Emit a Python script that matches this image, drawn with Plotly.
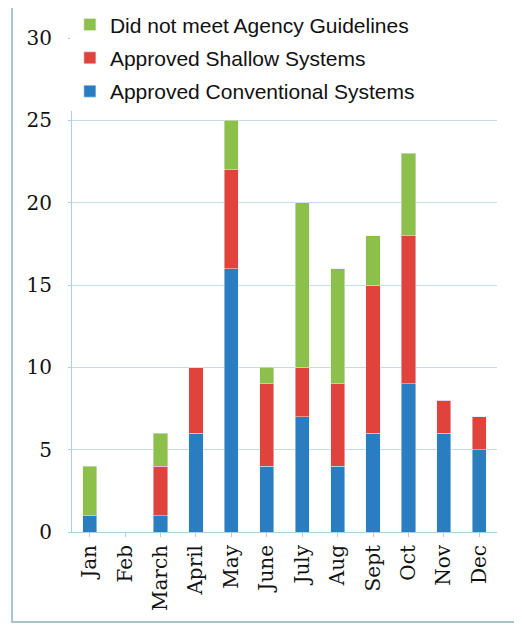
import plotly.graph_objects as go

months = ["Jan", "Feb", "March", "April", "May", "June", "July", "Aug", "Sept", "Oct", "Nov", "Dec"]
conventional = [1, 0, 1, 6, 16, 4, 7, 4, 6, 9, 6, 5]
shallow = [0, 0, 3, 4, 6, 5, 3, 5, 9, 9, 2, 2]
not_met = [3, 0, 2, 0, 3, 1, 10, 7, 3, 5, 0, 0]
y_ticks = [0, 5, 10, 15, 20, 25, 30]

fig = go.Figure()
fig.add_bar(x=months, y=conventional, name="Approved Conventional Systems", marker_color="#2B7DC2",
            legendgroup="a", legendrank=3)
fig.add_bar(x=months, y=shallow, name="Approved Shallow Systems", marker_color="#E0433C",
            legendgroup="b", legendrank=2)
fig.add_bar(x=months, y=not_met, name="Did not meet Agency Guidelines", marker_color="#8DC04B",
            legendgroup="c", legendrank=1)

fig.update_layout(
    width=522, height=626,
    barmode="stack", bargap=0.6,
    margin=dict(l=64, r=33, t=30, b=102, autoexpand=False),
    paper_bgcolor="white", plot_bgcolor="white",
    showlegend=True,
    legend=dict(x=-0.005, y=1.068, xanchor="left", yanchor="top", traceorder="grouped",
                bgcolor="white", font=dict(family="Liberation Sans, Arial", size=21, color="#111"),
                itemwidth=30, tracegroupgap=3),
    xaxis=dict(tickangle=-90, tickfont=dict(family="DejaVu Serif", size=20, color="#111"),
               showline=True, linecolor="#A9CFE0", ticks="outside", ticklen=4, tickcolor="#A9CFE0",
               showgrid=False, automargin=False),
    yaxis=dict(range=[0, 30], tickvals=y_ticks, tickfont=dict(family="DejaVu Serif", size=20, color="#111"),
               showline=True, linecolor="#A9CFE0", gridcolor="#BFDDEB", gridwidth=1,
               ticks="outside", ticklen=3, tickcolor="#A9CFE0", zeroline=False, ticklabelstandoff=12,
               automargin=False),
    shapes=[dict(type="rect", xref="paper", yref="paper", x0=-0.141, x1=1.2, y0=-0.182, y1=1.066,
                 line=dict(color="#A8C4CE", width=2), fillcolor="rgba(0,0,0,0)", layer="below")],
)

fig.write_html("out.html")
